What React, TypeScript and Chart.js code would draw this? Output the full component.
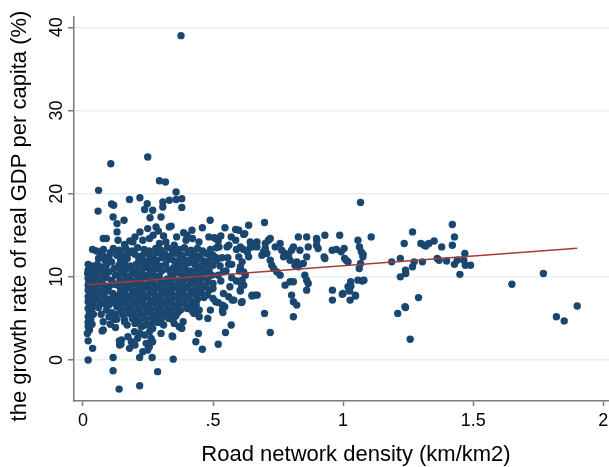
import { useEffect, useRef } from "react";
import { Chart, registerables } from "chart.js";

Chart.register(...registerables);

const xTickValues = [0, 0.5, 1, 1.5, 2];
const xTickLabels = ["0", ".5", "1", "1.5", "2"];
const yTickValues = [0, 10, 20, 30, 40];
const yTickLabels = ["0", "10", "20", "30", "40"];
const xTitle = "Road network density (km/km2)";
const yTitle = "the growth rate of real GDP per capita (%)";

// fitted line endpoints [density, growth]
const fitLine: [number, number][] = [[0.02, 9.04], [1.9, 13.45]];

// observations [road density, growth rate]
const leftColumn: [number, number][] = [
  [0.02, 11.5], [0.03, 11.3], [0.04, 11.0], [0.02, 10.8], [0.035, 10.5], [0.025, 10.2], [0.045, 10.1],
  [0.02, 9.8], [0.03, 9.5], [0.04, 9.3], [0.02, 9.0], [0.033, 8.8], [0.045, 8.6], [0.02, 8.4],
  [0.028, 8.1], [0.04, 7.9], [0.02, 7.6], [0.032, 7.4], [0.045, 7.2], [0.02, 7.0], [0.03, 6.7],
  [0.04, 6.5], [0.02, 6.2], [0.033, 6.0], [0.025, 5.7], [0.04, 5.5], [0.02, 5.2], [0.03, 4.9],
  [0.02, 4.5], [0.035, 4.3], [0.02, 4.0], [0.025, 3.6], [0.017, 3.2], [0.02, 2.3], [0.037, 1.4],
  [0.02, 0.0], [0.022, 9.3], [0.024, 8.6], [0.018, 10.4], [0.038, 10.9], [0.042, 9.9], [0.047, 11.3],
  [0.05, 10.5], [0.037, 13.3], [0.052, 13.1],
];

const lowDensityBand: [number, number][] = [
  [0.067, 13.0], [0.077, 12.5], [0.078, 14.6], [0.09, 14.6], [0.06, 12.2], [0.085, 12.0], [0.1, 12.4],
  [0.11, 11.8], [0.055, 11.5], [0.07, 11.2], [0.09, 11.4], [0.12, 11.0], [0.06, 10.8], [0.08, 10.4],
  [0.1, 10.6], [0.125, 10.2], [0.055, 10.0], [0.07, 9.7], [0.09, 9.9], [0.11, 9.6], [0.06, 9.2],
  [0.08, 9.0], [0.1, 8.8], [0.12, 9.1], [0.055, 8.5], [0.075, 8.2], [0.095, 8.3], [0.115, 8.0],
  [0.06, 7.7], [0.085, 7.5], [0.105, 7.3], [0.125, 7.6], [0.065, 7.0], [0.08, 6.8], [0.1, 6.6],
  [0.12, 6.9], [0.06, 6.3], [0.09, 6.0], [0.11, 5.7], [0.07, 5.5], [0.1, 5.2], [0.12, 4.9],
  [0.078, 4.6], [0.078, 3.6], [0.074, 3.5], [0.105, 4.3], [0.128, 5.5], [0.13, 6.4], [0.072, 9.4],
  [0.088, 10.8], [0.068, 12.6], [0.105, 12.9], [0.117, 13.4], [0.13, 12.6], [0.079, 13.3],
];

const coreCluster: [number, number][] = [
  [0.14, 13.2], [0.165, 13.4], [0.19, 13.1], [0.21, 13.5], [0.235, 13.3], [0.255, 13.1], [0.28, 13.4],
  [0.3, 13.2], [0.325, 13.5], [0.345, 13.1], [0.37, 13.3], [0.39, 13.5], [0.415, 13.2], [0.44, 13.4],
  [0.46, 13.1], [0.49, 13.3],
  [0.135, 12.8], [0.158, 12.6], [0.18, 12.9], [0.2, 12.7], [0.225, 12.5], [0.248, 12.8], [0.27, 12.6],
  [0.292, 12.9], [0.315, 12.7], [0.338, 12.5], [0.36, 12.8], [0.382, 12.6], [0.405, 12.9], [0.428, 12.7],
  [0.45, 12.5], [0.475, 12.8], [0.5, 12.6],
  [0.145, 12.0], [0.17, 12.2], [0.215, 12.1], [0.238, 11.9], [0.26, 12.2], [0.283, 12.0], [0.305, 12.3],
  [0.33, 12.1], [0.352, 11.9], [0.375, 12.2], [0.397, 12.0], [0.42, 12.3], [0.442, 12.1], [0.465, 11.9],
  [0.49, 12.2], [0.515, 12.0],
  [0.138, 11.4], [0.16, 11.6], [0.183, 11.3], [0.205, 11.5], [0.228, 11.7], [0.25, 11.4], [0.272, 11.6],
  [0.295, 11.3], [0.318, 11.5], [0.362, 11.6], [0.385, 11.4], [0.408, 11.7], [0.43, 11.5], [0.455, 11.3],
  [0.478, 11.6], [0.5, 11.4],
  [0.145, 10.8], [0.168, 11.0], [0.19, 10.7], [0.213, 10.9], [0.236, 11.1], [0.258, 10.8], [0.28, 11.0],
  [0.302, 10.7], [0.325, 10.9], [0.348, 11.1], [0.37, 10.8], [0.393, 11.0], [0.415, 10.7], [0.438, 10.9],
  [0.46, 11.1], [0.485, 10.8],
  [0.135, 10.2], [0.158, 10.4], [0.18, 10.1], [0.203, 10.3], [0.225, 10.5], [0.248, 10.2], [0.27, 10.4],
  [0.293, 10.1], [0.338, 10.3], [0.36, 10.5], [0.382, 10.2], [0.405, 10.4], [0.428, 10.1], [0.45, 10.3],
  [0.472, 10.5], [0.495, 10.2],
  [0.142, 9.6], [0.165, 9.8], [0.188, 9.5], [0.21, 9.7], [0.232, 9.9], [0.255, 9.6], [0.278, 9.8],
  [0.3, 9.5], [0.322, 9.7], [0.345, 9.9], [0.367, 9.6], [0.39, 9.8], [0.412, 9.5], [0.435, 9.7],
  [0.458, 9.9], [0.48, 9.6],
  [0.135, 9.0], [0.158, 9.2], [0.18, 8.9], [0.202, 9.1], [0.225, 9.3], [0.248, 9.0], [0.27, 9.2],
  [0.292, 8.9], [0.315, 9.1], [0.338, 9.3], [0.36, 9.0], [0.383, 9.2], [0.405, 8.9], [0.428, 9.1],
  [0.45, 9.3], [0.473, 9.0], [0.5, 9.2],
  [0.145, 8.4], [0.168, 8.6], [0.19, 8.3], [0.213, 8.5], [0.235, 8.7], [0.258, 8.4], [0.28, 8.6],
  [0.303, 8.3], [0.325, 8.5], [0.348, 8.7], [0.37, 8.4], [0.392, 8.6], [0.415, 8.3], [0.438, 8.5],
  [0.46, 8.7], [0.485, 8.4],
  [0.138, 7.8], [0.16, 8.0], [0.183, 7.7], [0.205, 7.9], [0.228, 8.1], [0.25, 7.8], [0.273, 8.0],
  [0.295, 7.7], [0.318, 7.9], [0.34, 8.1], [0.363, 7.8], [0.385, 8.0], [0.408, 7.7], [0.43, 7.9],
  [0.453, 8.1], [0.478, 7.8],
  [0.145, 7.2], [0.168, 7.4], [0.19, 7.1], [0.212, 7.3], [0.235, 7.5], [0.258, 7.2], [0.28, 7.4],
  [0.302, 7.1], [0.325, 7.3], [0.347, 7.5], [0.37, 7.2], [0.393, 7.4], [0.415, 7.1], [0.44, 7.3],
  [0.465, 7.5],
  [0.14, 6.6], [0.163, 6.8], [0.185, 6.5], [0.208, 6.7], [0.23, 6.9], [0.253, 6.6], [0.275, 6.8],
  [0.298, 6.5], [0.32, 6.7], [0.343, 6.9], [0.365, 6.6], [0.388, 6.8], [0.41, 6.5], [0.435, 6.7],
  [0.148, 6.0], [0.17, 6.2], [0.193, 5.9], [0.215, 6.1], [0.238, 6.3], [0.26, 6.0], [0.283, 6.2],
  [0.305, 5.9], [0.328, 6.1], [0.35, 6.3], [0.375, 6.0], [0.4, 6.2], [0.42, 5.9],
  [0.155, 5.4], [0.178, 5.6], [0.2, 5.3], [0.222, 5.5], [0.245, 5.7], [0.268, 5.4], [0.29, 5.6],
  [0.315, 5.3], [0.34, 5.5], [0.365, 5.7],
  [0.16, 4.8], [0.19, 5.0], [0.215, 4.7], [0.24, 4.9], [0.265, 5.1], [0.3, 4.8], [0.33, 5.0],
  [0.17, 4.2], [0.2, 4.4], [0.23, 4.1], [0.26, 4.3], [0.29, 4.5],
];

const upperScatter: [number, number][] = [
  [0.377, 39.0], [0.249, 24.4], [0.107, 23.6], [0.294, 21.55], [0.317, 21.4], [0.06, 20.4], [0.358, 20.2],
  [0.11, 18.75], [0.118, 18.6], [0.179, 19.3], [0.219, 19.5], [0.247, 18.8], [0.307, 19.0], [0.332, 19.2],
  [0.358, 19.3], [0.38, 19.4], [0.38, 18.35], [0.058, 17.9], [0.237, 18.1], [0.268, 18.0], [0.307, 18.4],
  [0.116, 17.2], [0.131, 16.4], [0.158, 16.8], [0.258, 17.1], [0.3, 17.2], [0.131, 15.4], [0.135, 14.4],
  [0.219, 15.4], [0.249, 15.8], [0.281, 16.0], [0.332, 16.0], [0.339, 16.1], [0.387, 15.3], [0.419, 15.6],
  [0.459, 15.9], [0.489, 16.8], [0.546, 15.9], [0.587, 15.7], [0.637, 16.2], [0.618, 15.1],
  [0.16, 13.9], [0.192, 14.2], [0.23, 14.4], [0.256, 14.6], [0.294, 14.0], [0.319, 14.2], [0.351, 13.8],
  [0.396, 14.4], [0.421, 14.6], [0.446, 14.2], [0.484, 14.8], [0.51, 14.6], [0.523, 13.6], [0.561, 13.8],
  [0.587, 14.4], [0.2, 14.8], [0.27, 15.0], [0.31, 14.9], [0.36, 14.8], [0.4, 15.0], [0.29, 15.5],
  [0.18, 14.3], [0.505, 14.7], [0.52, 14.3], [0.53, 14.9], [0.57, 14.8],
];

const lowerScatter: [number, number][] = [
  [0.116, 0.3], [0.116, -1.3], [0.139, -3.5], [0.218, -3.1], [0.218, 0.3], [0.266, 0.3], [0.287, -1.4],
  [0.347, 0.1], [0.141, 1.8], [0.179, 1.4], [0.186, 2.2], [0.173, 2.8], [0.148, 2.4], [0.198, 3.4],
  [0.218, 3.2], [0.224, 4.0], [0.237, 3.0], [0.243, 2.0], [0.249, 1.2], [0.23, 1.0], [0.262, 2.6],
  [0.268, 2.2], [0.256, 3.4], [0.249, 4.2], [0.268, 3.8], [0.3, 3.2], [0.294, 5.0], [0.345, 2.8],
  [0.351, 4.4], [0.345, 4.8], [0.37, 4.0], [0.351, 5.2], [0.38, 3.8], [0.385, 4.6], [0.14, 2.3],
  [0.146, 1.9], [0.16, 4.6], [0.13, 4.9], [0.125, 3.9], [0.2, 1.8], [0.21, 2.6], [0.255, 1.6],
  [0.28, 4.6], [0.31, 4.2], [0.32, 5.5], [0.357, 5.3], [0.334, 5.7], [0.343, 2.9],
  [0.459, 1.3], [0.434, 2.2], [0.444, 3.2], [0.447, 5.2], [0.427, 5.6], [0.434, 6.4], [0.447, 6.0],
];

const midRange: [number, number][] = [
  [0.698, 16.54], [0.622, 15.2], [0.599, 15.6], [0.669, 14.2], [0.669, 13.6], [0.701, 14.0], [0.713, 14.4],
  [0.72, 14.6], [0.694, 13.0], [0.707, 12.8], [0.688, 12.6], [0.72, 12.0], [0.701, 13.4], [0.726, 11.4],
  [0.745, 10.6], [0.758, 10.2], [0.733, 11.0], [0.739, 13.6], [0.758, 14.0], [0.764, 13.2], [0.777, 12.8],
  [0.771, 12.4], [0.79, 12.6], [0.802, 13.2], [0.809, 13.6], [0.796, 12.0], [0.828, 14.8], [0.86, 14.8],
  [0.834, 13.2], [0.866, 13.6], [0.86, 12.4], [0.822, 11.8], [0.847, 11.6], [0.828, 11.2], [0.815, 11.4],
  [0.853, 10.2], [0.86, 9.6], [0.866, 9.2], [0.86, 8.4], [0.777, 9.0], [0.796, 9.4], [0.809, 9.4],
  [0.802, 7.8], [0.809, 7.0], [0.822, 6.6], [0.809, 5.2], [0.72, 3.3], [0.698, 5.6], [0.643, 14.2],
  [0.65, 13.6], [0.631, 13.0], [0.637, 12.4], [0.599, 12.4], [0.612, 11.8], [0.605, 11.2], [0.618, 10.6],
  [0.624, 10.2], [0.612, 9.6], [0.618, 9.0], [0.605, 8.4], [0.65, 7.8], [0.663, 7.8], [0.612, 7.0],
  [0.605, 13.6], [0.644, 13.6], [0.663, 14.0], [0.572, 11.5], [0.602, 10.7], [0.59, 9.5], [0.572, 9.9],
  [0.55, 10.7], [0.527, 11.3], [0.535, 12.3], [0.557, 12.3], [0.513, 12.3], [0.513, 13.5], [0.554, 13.6],
  [0.59, 13.3], [0.617, 13.3], [0.632, 13.1], [0.609, 9.1], [0.605, 8.3],
  [0.47, 7.8], [0.5, 7.4], [0.52, 6.9], [0.545, 6.4], [0.56, 7.6], [0.49, 6.0], [0.48, 5.0],
  [0.5, 8.6], [0.54, 8.0], [0.565, 8.8], [0.52, 1.9], [0.548, 3.3], [0.57, 4.2], [0.536, 6.0],
  [0.536, 6.6], [0.574, 7.2], [0.609, 6.9], [0.65, 7.7], [0.67, 7.8], [0.52, 10.2], [0.53, 9.5],
  [0.51, 7.0], [0.54, 10.6], [0.56, 11.5], [0.58, 7.2], [0.538, 5.7],
];

const highRange: [number, number][] = [
  [0.898, 14.6], [0.904, 13.4], [0.93, 15.0], [0.927, 12.4], [0.898, 13.8], [0.958, 13.2], [0.974, 13.3],
  [0.987, 15.0], [0.993, 13.0], [1.004, 13.4], [1.006, 12.2], [1.012, 12.0], [1.019, 11.8], [0.959, 8.4],
  [0.959, 7.2], [1.0, 8.0], [1.019, 8.8], [1.029, 9.4], [1.027, 7.2], [1.047, 7.8], [1.057, 14.4],
  [1.063, 13.6], [1.07, 13.0], [1.076, 12.4], [1.067, 11.6], [1.057, 9.6], [1.08, 9.6], [1.108, 14.8],
  [1.067, 18.95], [1.187, 11.8], [1.22, 12.2], [1.22, 10.0], [1.235, 14.0], [1.241, 10.4], [1.267, 15.4],
  [1.267, 11.2], [1.273, 11.8], [1.299, 14.0], [1.312, 13.8], [1.33, 14.0], [1.35, 14.3], [1.305, 11.8],
  [1.21, 5.6], [1.238, 6.4], [1.29, 7.5], [1.258, 2.5], [1.362, 12.2], [1.42, 16.3], [1.428, 14.8],
  [1.42, 13.8], [1.318, 13.7], [1.379, 13.6], [1.369, 12.0], [1.398, 11.9], [1.468, 12.8], [1.464, 12.0],
  [1.439, 12.0], [1.428, 11.5], [1.47, 11.4], [1.49, 11.4], [1.449, 10.3], [1.649, 9.1], [1.77, 10.4],
  [1.82, 5.2], [1.85, 4.7], [1.9, 6.5], [1.24, 10.8], [1.24, 6.3], [1.062, 11.0], [1.077, 12.7],
  [1.074, 9.5], [1.03, 8.9], [1.025, 8.3], [0.997, 7.9], [1.048, 7.7], [0.93, 12.2], [0.899, 14.4],
];

const toPoints = (arr: [number, number][]) => arr.map(([x, y]) => ({ x, y }));

const FONT = '"Liberation Sans", Arial, Helvetica, sans-serif';

const textPlugin = {
  id: "stataText",
  afterDraw(chart: any) {
    const { ctx, chartArea } = chart;
    const xs = chart.scales.x;
    const ys = chart.scales.y;
    ctx.save();
    ctx.fillStyle = "#000";
    ctx.font = `18px ${FONT}`;
    ctx.textAlign = "center";
    ctx.textBaseline = "alphabetic";
    xTickValues.forEach((v, i) => {
      ctx.fillText(xTickLabels[i], xs.getPixelForValue(v), chartArea.bottom + 25);
    });
    yTickValues.forEach((v, i) => {
      ctx.save();
      ctx.translate(chartArea.left - 12, ys.getPixelForValue(v));
      ctx.rotate(-Math.PI / 2);
      ctx.fillText(yTickLabels[i], 0, 0);
      ctx.restore();
    });
    ctx.font = `22px ${FONT}`;
    ctx.fillText(xTitle, (chartArea.left + chartArea.right) / 2 + 1, chartArea.bottom + 60);
    ctx.save();
    ctx.translate(chartArea.left - 48.5, (chartArea.top + chartArea.bottom) / 2 + 7);
    ctx.rotate(-Math.PI / 2);
    ctx.fillText(yTitle, 0, 0);
    ctx.restore();
    ctx.restore();
  },
};

export default function App() {
  const canvasRef = useRef<HTMLCanvasElement | null>(null);

  useEffect(() => {
    const canvas = canvasRef.current;
    if (!canvas) return;
    const allPoints = [
      ...leftColumn,
      ...lowDensityBand,
      ...coreCluster,
      ...upperScatter,
      ...lowerScatter,
      ...midRange,
      ...highRange,
    ];
    const chart = new Chart(canvas, {
      type: "scatter",
      data: {
        datasets: [
          {
            data: toPoints(fitLine),
            showLine: true,
            borderColor: "#a53a3c",
            borderWidth: 1.5,
            pointRadius: 0,
            order: 0,
          } as any,
          {
            data: toPoints(allPoints),
            backgroundColor: "#1a476f",
            borderWidth: 0,
            pointRadius: 3.7,
            order: 1,
          } as any,
        ],
      },
      options: {
        responsive: false,
        animation: false,
        devicePixelRatio: 1,
        events: [],
        layout: { padding: { top: 17, left: 0, right: 0, bottom: 0 } },
        plugins: { legend: { display: false }, tooltip: { enabled: false } },
        scales: {
          x: {
            type: "linear",
            min: -0.0344,
            max: 2.126,
            afterBuildTicks: (s: any) => {
              s.ticks = xTickValues.map((v) => ({ value: v }));
            },
            afterFit: (s: any) => {
              s.height = 66;
            },
            ticks: { display: false },
            grid: {
              drawOnChartArea: false,
              drawTicks: true,
              tickLength: 5,
              tickColor: "#7a7a7a",
              tickWidth: 1.5,
            },
            border: { display: true, color: "#7a7a7a", width: 1.5 },
          },
          y: {
            type: "linear",
            min: -4.93,
            max: 41.24,
            afterBuildTicks: (s: any) => {
              s.ticks = yTickValues.map((v) => ({ value: v }));
            },
            afterFit: (s: any) => {
              s.width = 74;
            },
            ticks: { display: false },
            grid: {
              color: "#e6eff2",
              lineWidth: 1.5,
              drawTicks: true,
              tickLength: 6,
              tickColor: "#7a7a7a",
              tickWidth: 1.5,
            },
            border: { display: true, color: "#7a7a7a", width: 1.5 },
          },
        },
      } as any,
      plugins: [textPlugin],
    });
    return () => chart.destroy();
  }, []);

  return (
    <div
      style={{
        position: "fixed",
        left: 0,
        top: 0,
        width: 609,
        height: 467,
        overflow: "hidden",
        background: "#fff",
      }}
    >
      <canvas
        ref={canvasRef}
        width={640}
        height={467}
        style={{ display: "block", width: 640, height: 467 }}
      />
    </div>
  );
}
